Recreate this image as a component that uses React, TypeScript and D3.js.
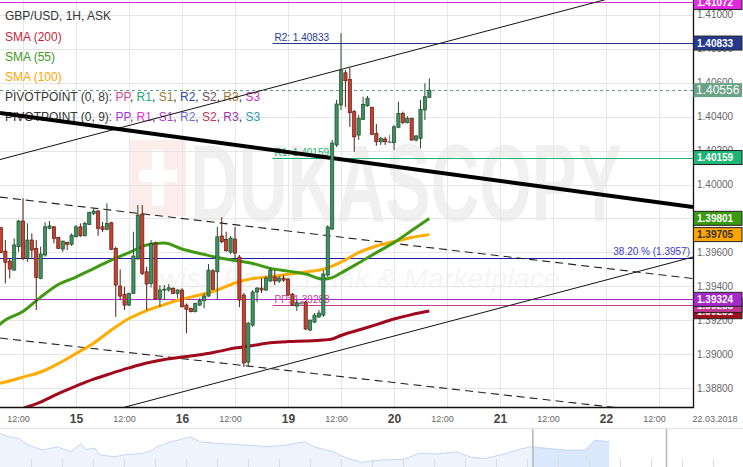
import React from 'react';
import * as d3 from 'd3';

// ---------- DATA ----------
// candles: [hour index (0 = 15 Mar 00:00, weekend removed), open, high, low, close]
const candles: [number, number, number, number, number][] = [
  [-17, 1.39745, 1.39751, 1.39595, 1.39601],
  [-16, 1.39608, 1.39673, 1.39418, 1.39542],
  [-15, 1.39549, 1.39565, 1.39447, 1.39502],
  [-14, 1.39496, 1.39683, 1.39492, 1.39644],
  [-13, 1.39634, 1.39791, 1.39604, 1.39785],
  [-12, 1.39785, 1.39919, 1.39555, 1.39565],
  [-11, 1.39565, 1.39771, 1.39545, 1.39673],
  [-10, 1.39673, 1.39712, 1.39565, 1.39614],
  [-9, 1.39624, 1.39673, 1.39261, 1.39453],
  [-8, 1.39447, 1.39634, 1.39442, 1.39591],
  [-7, 1.39585, 1.39777, 1.39575, 1.39751],
  [-6, 1.39742, 1.39785, 1.39736, 1.39756],
  [-5, 1.39751, 1.39756, 1.39654, 1.39683],
  [-4, 1.39689, 1.39692, 1.3962, 1.39624],
  [-3, 1.3962, 1.39669, 1.39604, 1.39667],
  [-2, 1.39659, 1.39663, 1.39614, 1.39648],
  [-1, 1.39648, 1.39712, 1.39639, 1.39702],
  [0, 1.39692, 1.39761, 1.39689, 1.39751],
  [1, 1.39751, 1.39771, 1.39692, 1.39698],
  [2, 1.39698, 1.39781, 1.39695, 1.39771],
  [3, 1.39765, 1.3984, 1.39761, 1.39836],
  [4, 1.3983, 1.3986, 1.3982, 1.39844],
  [5, 1.39844, 1.3985, 1.39698, 1.39742],
  [6, 1.39751, 1.39779, 1.3972, 1.39736],
  [7, 1.39736, 1.39889, 1.39732, 1.39771],
  [8, 1.39775, 1.39781, 1.39614, 1.39618],
  [9, 1.39624, 1.39634, 1.39221, 1.39408],
  [10, 1.39402, 1.395, 1.3932, 1.39343],
  [11, 1.39353, 1.39398, 1.39261, 1.3929],
  [12, 1.3929, 1.39363, 1.39284, 1.39359],
  [13, 1.39359, 1.39722, 1.39355, 1.39579],
  [14, 1.39565, 1.39879, 1.39555, 1.3982],
  [15, 1.39826, 1.39879, 1.39467, 1.39477],
  [16, 1.39486, 1.39516, 1.39261, 1.39414],
  [17, 1.39418, 1.39673, 1.39394, 1.39654],
  [18, 1.39654, 1.39663, 1.3932, 1.39324],
  [19, 1.3933, 1.39408, 1.3928, 1.39379],
  [20, 1.39379, 1.39408, 1.3932, 1.39384],
  [21, 1.39379, 1.39414, 1.39369, 1.39392],
  [22, 1.39389, 1.39394, 1.39355, 1.39359],
  [23, 1.39359, 1.39383, 1.3933, 1.39379],
  [24, 1.39379, 1.39389, 1.39277, 1.3928],
  [25, 1.3929, 1.393, 1.39124, 1.39265],
  [26, 1.39271, 1.39274, 1.39247, 1.39251],
  [27, 1.39251, 1.39304, 1.39247, 1.393],
  [28, 1.3929, 1.3933, 1.39284, 1.39316],
  [29, 1.39316, 1.39359, 1.39271, 1.39343],
  [30, 1.39343, 1.39532, 1.39339, 1.39496],
  [31, 1.39492, 1.39502, 1.39379, 1.39383],
  [32, 1.39486, 1.39751, 1.3932, 1.39692],
  [33, 1.39697, 1.39807, 1.39654, 1.39663],
  [34, 1.39677, 1.39722, 1.39604, 1.3961],
  [35, 1.39602, 1.39697, 1.39591, 1.39685],
  [36, 1.39679, 1.3975, 1.39567, 1.39596],
  [37, 1.39573, 1.39585, 1.39278, 1.3932],
  [38, 1.39349, 1.39361, 1.38925, 1.38949],
  [39, 1.38954, 1.3919, 1.38925, 1.39184],
  [40, 1.39172, 1.39379, 1.39161, 1.39367],
  [41, 1.39367, 1.39396, 1.39308, 1.3939],
  [42, 1.3939, 1.39449, 1.39361, 1.39379],
  [43, 1.39379, 1.39461, 1.39373, 1.39449],
  [44, 1.39432, 1.39508, 1.39426, 1.39496],
  [45, 1.39455, 1.39496, 1.39408, 1.39432],
  [46, 1.39432, 1.39461, 1.3942, 1.39449],
  [47, 1.39449, 1.39467, 1.39426, 1.39437],
  [48, 1.39443, 1.39449, 1.39343, 1.39349],
  [49, 1.39355, 1.39361, 1.39284, 1.3929],
  [50, 1.39284, 1.3932, 1.39255, 1.39302],
  [51, 1.39302, 1.39314, 1.39296, 1.39302],
  [52, 1.39308, 1.39314, 1.39143, 1.39149],
  [53, 1.39143, 1.39202, 1.39137, 1.39202],
  [54, 1.3919, 1.39243, 1.39184, 1.39231],
  [55, 1.3922, 1.39261, 1.39214, 1.39243],
  [56, 1.39231, 1.39496, 1.3922, 1.39473],
  [57, 1.39467, 1.39761, 1.39455, 1.3975],
  [58, 1.39738, 1.40262, 1.39732, 1.40244],
  [59, 1.40233, 1.40498, 1.40221, 1.40474],
  [60, 1.40468, 1.40892, 1.40439, 1.40674],
  [61, 1.40658, 1.40674, 1.40456, 1.40611],
  [62, 1.4062, 1.40686, 1.40339, 1.40423],
  [63, 1.40429, 1.40439, 1.40193, 1.40281],
  [64, 1.40291, 1.40409, 1.40262, 1.4039],
  [65, 1.40384, 1.40517, 1.4038, 1.40472],
  [66, 1.40464, 1.40521, 1.40458, 1.40508],
  [67, 1.40455, 1.40458, 1.40291, 1.40296],
  [68, 1.40301, 1.40356, 1.40228, 1.40252],
  [69, 1.40252, 1.40281, 1.40233, 1.40272],
  [70, 1.40268, 1.40281, 1.40233, 1.40252],
  [71, 1.40252, 1.40291, 1.40244, 1.4025],
  [72, 1.40246, 1.4035, 1.40203, 1.4034],
  [73, 1.40337, 1.40488, 1.40331, 1.40419],
  [74, 1.40419, 1.40429, 1.40356, 1.40366],
  [75, 1.40364, 1.40403, 1.4036, 1.4039],
  [76, 1.4039, 1.40393, 1.40258, 1.40262],
  [77, 1.40262, 1.40291, 1.40252, 1.40286],
  [78, 1.40272, 1.40498, 1.40213, 1.40443],
  [79, 1.40439, 1.40596, 1.4038, 1.40517],
  [80, 1.40513, 1.40625, 1.40509, 1.40556],
];

const smaHours = [-18, -16, -12, -8, -4, 0, 4, 8, 12, 16, 20, 24, 28, 32, 36, 40, 44, 48, 52, 56, 58, 60, 64, 68, 72, 76, 80];
const sma200 = [1.38625, 1.38642, 1.38681, 1.38719, 1.38769, 1.38813, 1.38854, 1.38888, 1.3892, 1.38949, 1.3897, 1.38984, 1.38997, 1.39016, 1.39037, 1.39052, 1.39068, 1.39075, 1.39078, 1.39084, 1.3909, 1.39111, 1.39143, 1.39175, 1.39208, 1.39234, 1.39255];
const sma55 = [1.39161, 1.39202, 1.39252, 1.39337, 1.39411, 1.39455, 1.39505, 1.39555, 1.39599, 1.39644, 1.39655, 1.3962, 1.39594, 1.3957, 1.39552, 1.39535, 1.39506, 1.3949, 1.39473, 1.39443, 1.39452, 1.39479, 1.39538, 1.39599, 1.39658, 1.39729, 1.398];
const sma100 = [1.38825, 1.38837, 1.38866, 1.38896, 1.38946, 1.39005, 1.39066, 1.39143, 1.39211, 1.39258, 1.39293, 1.39326, 1.39349, 1.39379, 1.3942, 1.39446, 1.39457, 1.39471, 1.39485, 1.39502, 1.3952, 1.39543, 1.39599, 1.39638, 1.39664, 1.39688, 1.39705];

// drawn trend lines: two anchor points [hour, price]
const upperChannel: [number, number][] = [[-17.2, 1.40147], [139.7, 1.41225]];
const lowerChannel: [number, number][] = [[-17.2, 1.38495], [139.7, 1.39573]];
const thickTrend: [number, number][] = [[-17.2, 1.40421], [139.7, 1.39867]];
const dashedUpper: [number, number][] = [[-17.2, 1.39926], [139.7, 1.39446]];
const dashedLower: [number, number][] = [[-17.2, 1.39096], [139.7, 1.38635]];

// horizontal levels
const levelPrices = [1.41072, 1.40833, 1.40556, 1.40159, 1.3957, 1.39324, 1.39288];
const levelNames = ['', 'R2: 1.40833', '', 'R1: 1.40159', '', '', 'PP: 1.39288'];
const pivotStartHour = 44.5;
const fibLabel = '38.20 % (1.3957)';

// price boxes on the right axis (drawn in this order)
const boxPrices = [1.39251, 1.39288, 1.39324, 1.39705, 1.39801, 1.40159, 1.40556, 1.40833, 1.41072];

const yTickValues = [1.388, 1.39, 1.392, 1.394, 1.396, 1.398, 1.4, 1.402, 1.404, 1.406, 1.408, 1.41];
const halfDayHours = [-12, 12, 36, 60, 84, 108, 132];
const dayHours = [0, 24, 48, 72, 96, 120];
const dayLabels = ['15', '16', '19', '20', '21', '22'];
const dateLabel = '22.03.2018';

const legendTitle = 'GBP/USD, 1H, ASK';
const smaLegend = ['SMA (200)', 'SMA (55)', 'SMA (100)'];
const pivotItems = ['PP', 'R1', 'S1', 'R2', 'S2', 'R3', 'S3'];

// navigator history (relative time, relative level)
const navT = [0, 2, 4, 6, 9, 12, 15, 17, 18, 20, 21, 24, 26, 30, 32, 33, 36, 40, 42, 46, 52, 56, 60, 64, 66, 70, 73, 76, 80, 85, 88, 92, 96, 99, 102, 106, 109, 111.5, 112, 115, 119, 123, 124, 125, 128];
const navV = [33.4, 30.1, 28.4, 21.8, 16.9, 20.2, 15.2, 23.5, 17.5, 18.6, 12, 10.3, 12, 13.6, 16.9, 20.2, 25.2, 30.1, 25.2, 23.5, 21.8, 20.2, 21.8, 25.2, 20.2, 15.2, 8.6, 4.7, 7, 7.7, 13.6, 13, 15.2, 9.6, 8.6, 13, 17.5, 20.2, 20.2, 18.6, 16.9, 16.9, 21.8, 26.8, 25.2];
const navWindowStart = 112;

// ---------- STYLES ----------
const FONT = '"Liberation Sans", Arial, sans-serif';
const levelColors = ['#d431d4', '#27388f', '#5e9c7c', '#1fb574', '#1c1caa', '#a52ac9', '#c73b9b'];
const boxFill = ['#a0101c', '#c2378f', '#a52ac9', '#ffa500', '#3a9a10', '#1fb574', '#6aa486', '#27388f', '#e029dc'];
const boxText = ['#fff', '#fff', '#fff', '#333', '#fff', '#fff', '#fff', '#fff', '#fff'];
const smaColors = ['#a0081c', '#3f9a12', '#ffab00'];
const smaLegendColors = ['#c41f3a', '#3c9a20', '#ffa500'];
const pivot8Colors = ['#d04a9a', '#1ea874', '#a07a30', '#3048a8', '#6d4a5c', '#a07a30', '#c834c8'];
const pivot9Colors = ['#a436e0', '#f02fcf', '#b040c8', '#7070d8', '#c8305a', '#a030a8', '#2a98b8'];

export default function App() {
  const W = 743, H = 467, PR = 693, PB = 407;
  const x = d3.scaleLinear().domain([0, 120]).range([76, 606]);
  const y = d3.scaleLinear().domain([1.388, 1.41]).range([388.3, 14.7]);
  const fmt = (p: number) => p.toFixed(5);

  const smaLine = (vals: number[]) =>
    d3.line<number>().x((_, i) => x(smaHours[i])).y((d) => y(d)).curve(d3.curveMonotoneX)(vals) || '';
  const seg = (pts: [number, number][]) =>
    d3.line<[number, number]>().x((d) => x(d[0])).y((d) => y(d[1]))(pts) || '';

  const navX = d3.scaleLinear().domain([0, 128]).range([0, 609]);
  const navY = d3.scaleLinear().domain([0, 39]).range([467, 428]);
  const navPts = navT.map((t, i) => [t, navV[i]] as [number, number]);
  const navArea = d3.area<[number, number]>().x((d) => navX(d[0])).y0(467).y1((d) => navY(d[1]));
  const navLine = d3.line<[number, number]>().x((d) => navX(d[0])).y((d) => navY(d[1]));
  const navWin = navPts.filter((d) => d[0] >= navWindowStart);

  const bw = 3.2;

  return (
    <div style={{ position: 'absolute', left: 0, top: 0 }}>
      <svg width={W} height={H} style={{ display: 'block', fontFamily: FONT }}>
        <defs>
          <clipPath id="plot">
            <rect x={0} y={0} width={PR} height={PB} />
          </clipPath>
        </defs>
        <rect x={0} y={0} width={W} height={H} fill="#fff" />

        {/* watermark */}
        <g clipPath="url(#plot)">
          <rect x={130} y={140} width={56} height={76} fill="#fcecec" />
          <rect x={152} y={150} width={12} height={56} fill="#fff" />
          <rect x={139} y={170} width={38} height={12} fill="#fff" />
          <text x={190} y={221} fontSize={110} fontWeight="bold" fill="#f0f0f0" textLength={432} lengthAdjust="spacingAndGlyphs">DUKASCOPY</text>
          <text x={140} y={288} fontSize={28} fontStyle="italic" fill="#f5f5f5" textLength={420} lengthAdjust="spacingAndGlyphs">Swiss Forex Bank &amp; Marketplace</text>
        </g>

        {/* grid */}
        <g stroke="#e6e6e6" strokeWidth={1}>
          {yTickValues.map((v) => (
            <line key={'gy' + v} x1={0} x2={PR} y1={Math.round(y(v)) + 0.5} y2={Math.round(y(v)) + 0.5} />
          ))}
          {[...halfDayHours, ...dayHours].map((h) => (
            <line key={'gx' + h} x1={Math.round(x(h)) + 0.5} x2={Math.round(x(h)) + 0.5} y1={0} y2={PB} />
          ))}
        </g>

        {/* legend */}
        <g fontSize={12}>
          <text x={5} y={19.5} fill="#333">{legendTitle}</text>
          {smaLegend.map((s, i) => (
            <text key={s} x={5} y={41 + i * 20} fill={smaLegendColors[i]}>{s}</text>
          ))}
          {[pivot8Colors, pivot9Colors].map((cols, r) => (
            <text key={'pv' + r} x={5} y={101 + r * 20} fill="#333">
              {`PIVOTPOINT (0, ${8 + r}): `}
              {pivotItems.map((it, i) => (
                <React.Fragment key={it}>
                  <tspan fill={cols[i]}>{it}</tspan>
                  {i < pivotItems.length - 1 ? <tspan fill="#333">, </tspan> : null}
                </React.Fragment>
              ))}
            </text>
          ))}
        </g>

        <g clipPath="url(#plot)">
          {/* horizontal levels */}
          {levelPrices.map((p, i) => {
            const x1 = levelNames[i] ? x(pivotStartHour) : 0;
            const yy = Math.round(y(p)) + 0.5;
            return (
              <line key={'lv' + i} x1={x1} x2={PR} y1={yy} y2={yy} stroke={levelColors[i]} strokeWidth={1}
                strokeDasharray={i === 2 ? '3,3' : undefined} />
            );
          })}
          {levelPrices.map((p, i) =>
            levelNames[i] ? (
              <text key={'ln' + i} x={x(pivotStartHour) + 2} y={y(p) - 2} fontSize={10} fill={levelColors[i]}>{levelNames[i]}</text>
            ) : null
          )}
          <text x={PR - 3} y={y(levelPrices[4]) - 2.5} fontSize={10} fill="#3a3acb" textAnchor="end">{fibLabel}</text>

          {/* trend lines */}
          <path d={seg(upperChannel)} stroke="#111" strokeWidth={1} fill="none" />
          <path d={seg(lowerChannel)} stroke="#111" strokeWidth={1} fill="none" />
          <path d={seg(dashedUpper)} stroke="#222" strokeWidth={1.1} strokeDasharray="8,5" fill="none" />
          <path d={seg(dashedLower)} stroke="#222" strokeWidth={1.1} strokeDasharray="8,5" fill="none" />
          <path d={seg(thickTrend)} stroke="#000" strokeWidth={4} fill="none" />

          {/* SMAs */}
          <path d={smaLine(sma200)} stroke={smaColors[0]} strokeWidth={3} fill="none" strokeLinejoin="round" />
          <path d={smaLine(sma100)} stroke={smaColors[2]} strokeWidth={3} fill="none" strokeLinejoin="round" />
          <path d={smaLine(sma55)} stroke={smaColors[1]} strokeWidth={3} fill="none" strokeLinejoin="round" />

          {/* candles */}
          {candles.map(([h, o, hi, lo, c]) => {
            const cx = x(h);
            const doji = Math.abs(o - c) < 0.00003;
            const up = c >= o;
            const fill = doji ? '#9a9a9a' : up ? '#3f9060' : '#c8412f';
            const stroke = doji ? '#777' : up ? '#1d4d2c' : '#5c1a12';
            const top = y(Math.max(o, c));
            const bot = y(Math.min(o, c));
            return (
              <g key={'c' + h}>
                <line x1={cx} x2={cx} y1={y(hi)} y2={y(lo)} stroke={stroke} strokeWidth={1} />
                <rect x={cx - bw / 2} y={top} width={bw} height={Math.max(1, bot - top)} fill={fill} stroke={stroke} strokeWidth={0.7} />
              </g>
            );
          })}
        </g>

        {/* plot border */}
        <line x1={PR + 0.5} x2={PR + 0.5} y1={0} y2={PB + 1} stroke="#111" strokeWidth={1.3} />
        <line x1={0} x2={PR + 1} y1={PB + 0.5} y2={PB + 0.5} stroke="#111" strokeWidth={1.3} />

        {/* y axis labels */}
        {yTickValues.map((v) => (
          <text key={'yt' + v} x={697} y={y(v) + 3.5} fontSize={10} fill="#666">{fmt(v)}</text>
        ))}

        {/* price boxes */}
        {boxPrices.map((p, i) => {
          const yc = y(p);
          const big = p === levelPrices[2];
          return (
            <g key={'bx' + i}>
              <rect x={PR + 0.5} y={yc - 7} width={W - PR - 1.5} height={14} fill={boxFill[i]}
                stroke={big ? 'none' : '#222'} strokeWidth={1} />
              <text x={big ? 696 : 697} y={yc + (big ? 4.3 : 3.6)} fontSize={big ? 12 : 10}
                fontWeight={big ? 'normal' : 'bold'} fill={boxText[i]}>{fmt(p)}</text>
            </g>
          );
        })}

        {/* x axis labels */}
        {halfDayHours.map((h) => (
          <text key={'hx' + h} x={x(h) - 4.5} y={421.5} fontSize={9} fill="#666" textAnchor="middle">12:00</text>
        ))}
        {dayHours.map((h, i) => (
          <text key={'dx' + h} x={x(h) + 0.5} y={422.5} fontSize={12} fontWeight="bold" fill="#444" textAnchor="middle">{dayLabels[i]}</text>
        ))}
        <text x={715} y={421.5} fontSize={9} fill="#666" textAnchor="middle">{dateLabel}</text>

        {/* navigator */}
        <line x1={0} x2={W} y1={428.5} y2={428.5} stroke="#e4e4e4" />
        <path d={navArea(navPts) || ''} fill="#eef4fd" />
        <path d={navArea(navWin) || ''} fill="#dbe7fa" />
        <path d={navLine(navPts) || ''} fill="none" stroke="#c3d7f4" strokeWidth={1} />
        {d3.range(31, W, 31).map((t) => (
          <line key={'nt' + t} x1={t + 0.5} x2={t + 0.5} y1={459} y2={467} stroke="#dcdcdc" />
        ))}
        <line x1={navX(navWindowStart)} x2={navX(navWindowStart)} y1={429} y2={467} stroke="#b5b5b5" strokeWidth={1.5} />
        <line x1={666.5} x2={666.5} y1={429} y2={467} stroke="#b5b5b5" strokeWidth={1.5} />
      </svg>
    </div>
  );
}
